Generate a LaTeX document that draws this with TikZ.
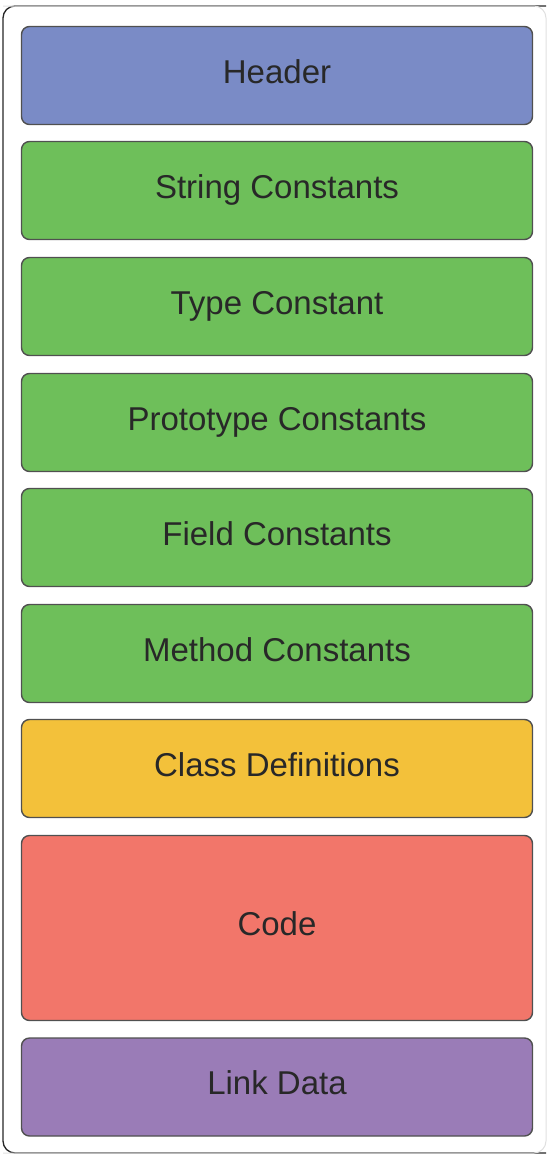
\documentclass[tikz,border=0pt]{standalone}
\usepackage{fontspec}
\setmainfont{Liberation Sans}
\usepackage{tikz}
\definecolor{hdrblue}{RGB}{122, 139, 198}
\definecolor{cstgreen}{RGB}{110, 191, 90}
\definecolor{clsyellow}{RGB}{243, 193, 58}
\definecolor{codered}{RGB}{242, 118, 106}
\definecolor{lnkpurple}{RGB}{154, 124, 183}
\definecolor{edgegray}{RGB}{80, 80, 80}
\definecolor{txtgray}{RGB}{40, 40, 40}

\begin{document}
\begin{tikzpicture}[x=1pt,y=-1pt,
  block/.style={draw=edgegray, line width=1.4pt, rounded corners=8pt,
    minimum width=511pt, minimum height=98pt, inner sep=0pt,
    text height=23.5pt, text depth=8pt,
    text=txtgray, font=\fontsize{33}{38}\selectfont}]
\useasboundingbox (0,0) rectangle (547,1154);

% Outer frame (right and bottom edges fade out)
\draw[line width=1.3pt, black!85, rounded corners=12pt] (546,6) -- (3,6) -- (3,1153) -- (546,1153);
\draw[line width=1pt, black!12, rounded corners=12pt] (3,1153) -- (546,1153) -- (546,6) -- (3,6);

% Sections
\node[block, fill=hdrblue] (header) at (277,75.5) {Header};
\node[block, fill=cstgreen] (strings) at (277,190.5) {String Constants};
\node[block, fill=cstgreen] (types) at (277,306.5) {Type Constant};
\node[block, fill=cstgreen] (protos) at (277,422.5) {Prototype Constants};
\node[block, fill=cstgreen] (fields) at (277,537.5) {Field Constants};
\node[block, fill=cstgreen] (methods) at (277,653.5) {Method Constants};
\node[block, fill=clsyellow] (classes) at (277,768.5) {Class Definitions};
\node[block, fill=codered, minimum height=185pt] (code) at (277,928) {Code};
\node[block, fill=lnkpurple] (link) at (277,1087) {Link Data};
\end{tikzpicture}
\end{document}
